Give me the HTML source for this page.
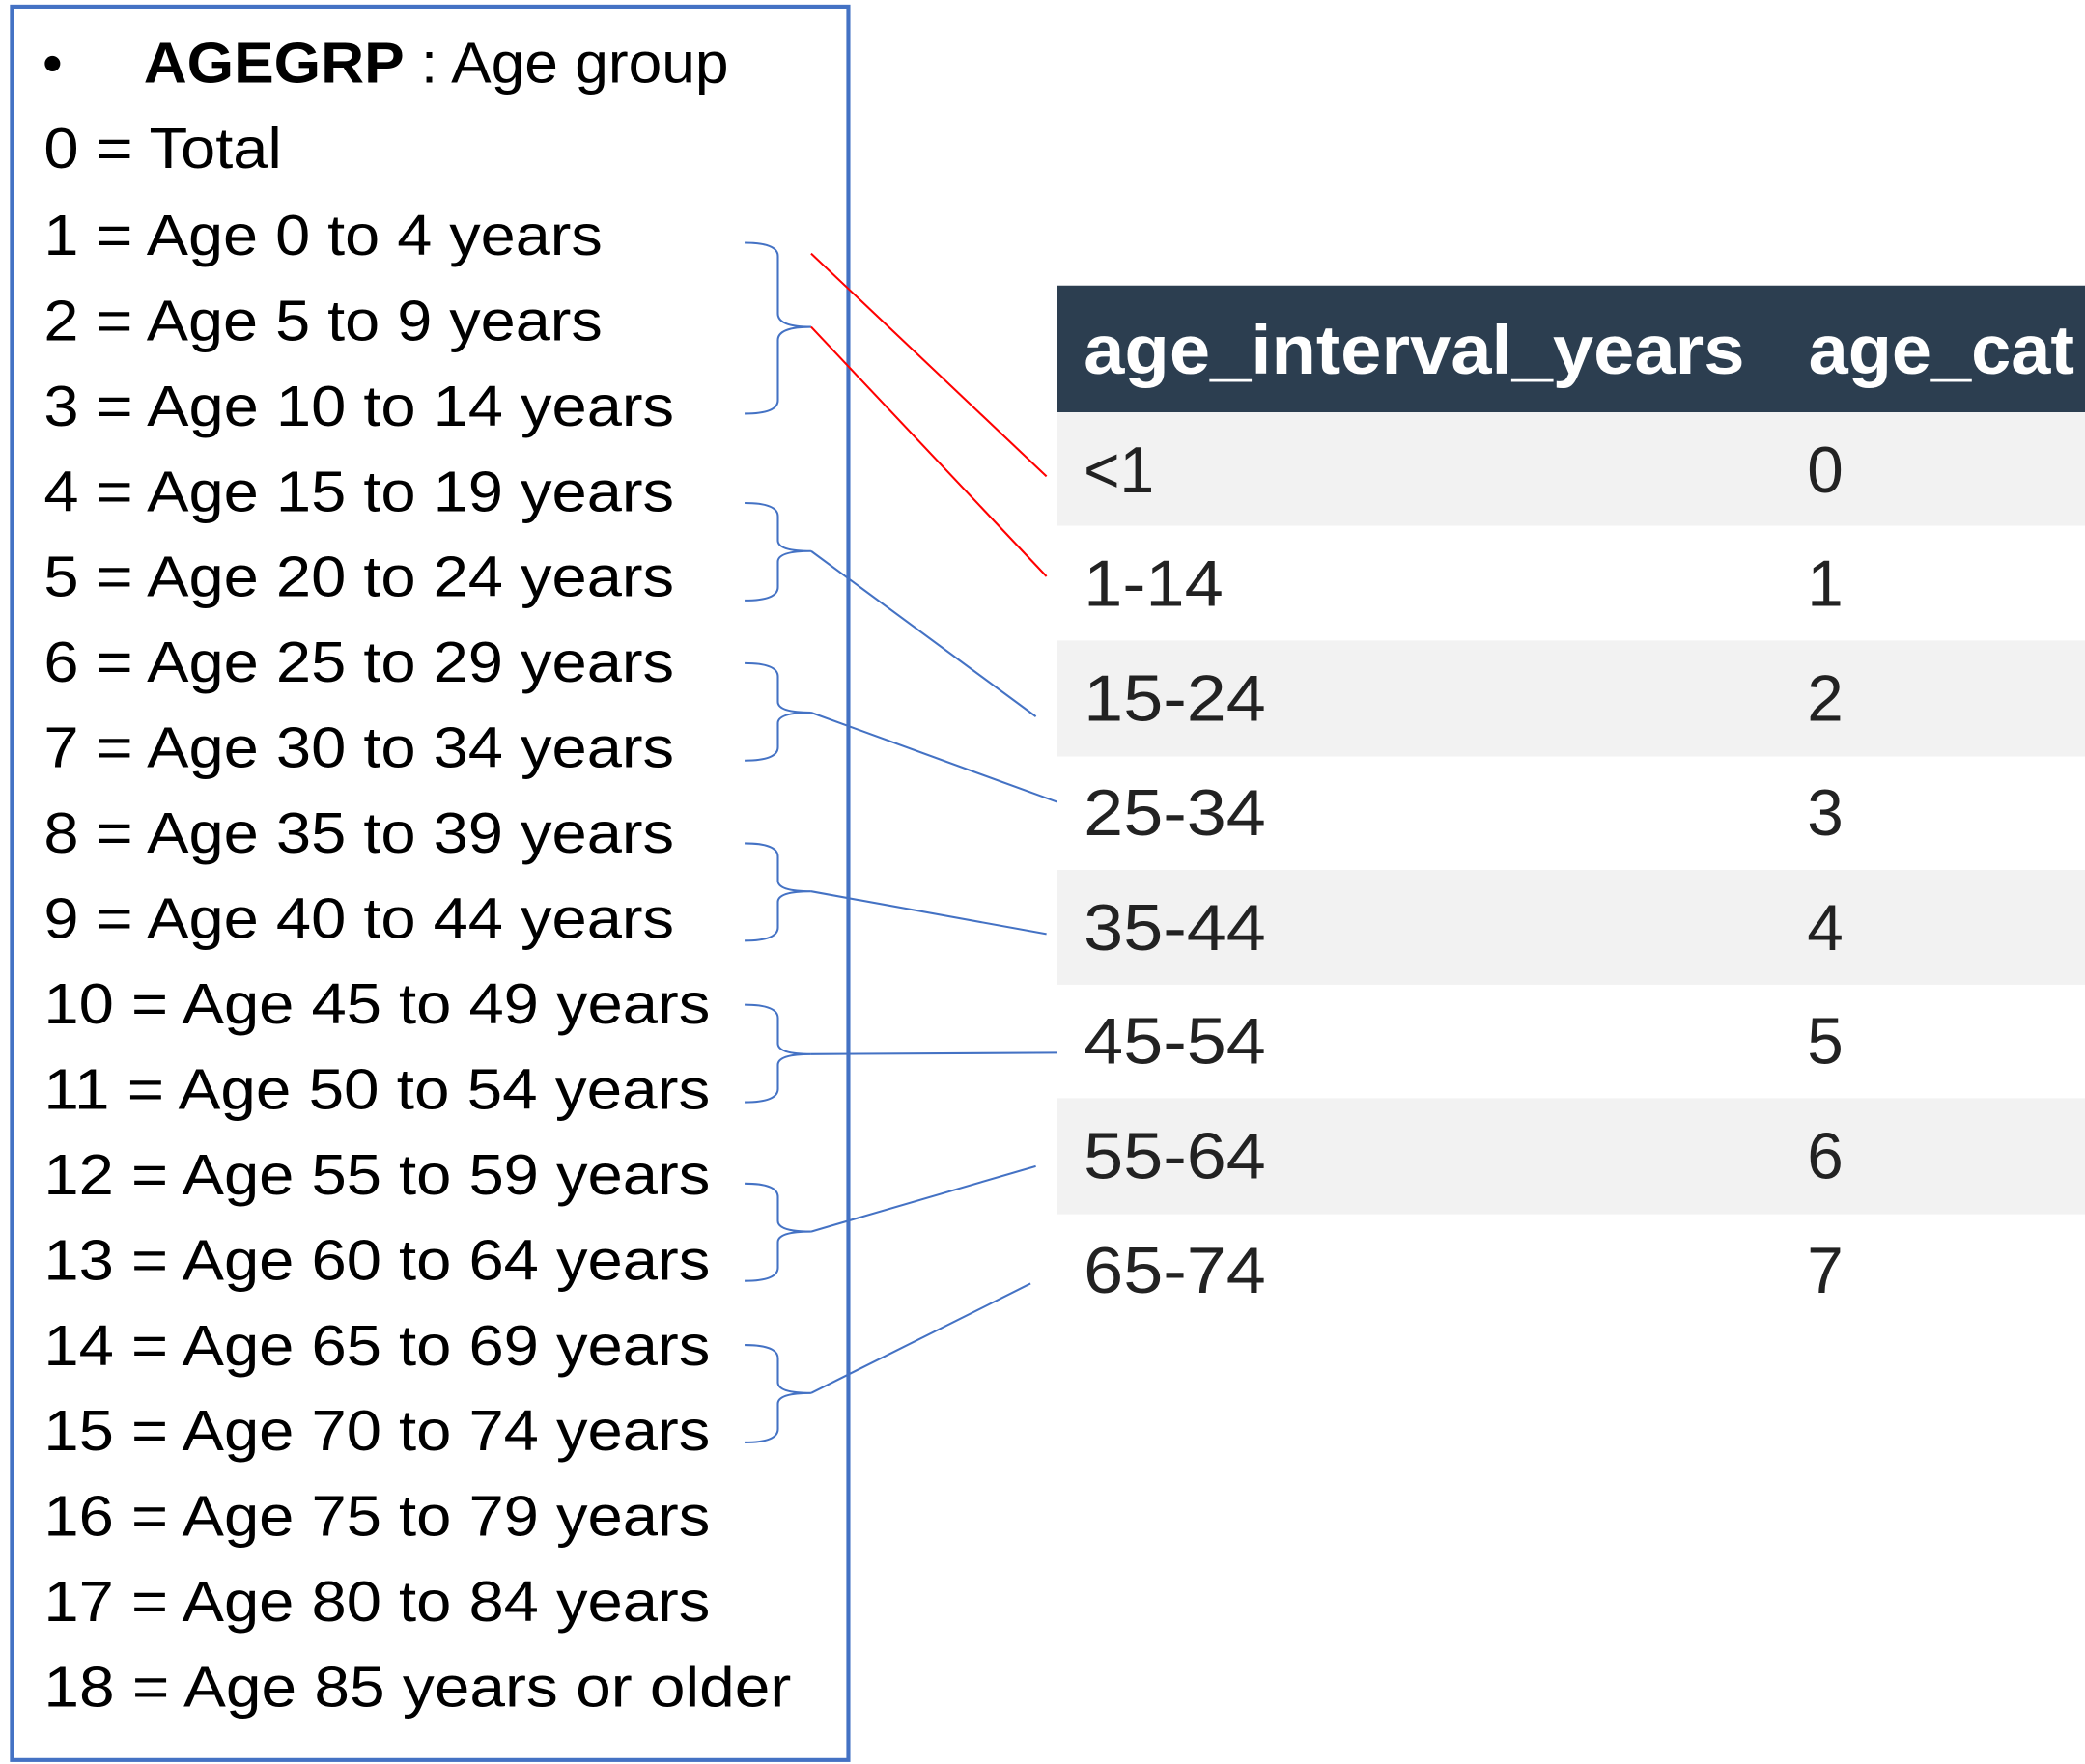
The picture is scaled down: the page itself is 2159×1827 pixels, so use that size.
<!DOCTYPE html>
<html><head><meta charset="utf-8"><style>html,body{margin:0;padding:0;background:#fff}svg{display:block}</style></head>
<body>
<svg width="2159" height="1827" viewBox="0 0 1568 1322" preserveAspectRatio="none" xmlns="http://www.w3.org/2000/svg">
<rect x="9" y="5" width="629" height="1314" fill="#fff" stroke="#4472c4" stroke-width="3"/>
<g font-family="Liberation Sans, sans-serif" font-size="43" fill="#000">
<text x="32" y="62">•</text>
<text x="108" y="62" textLength="440" lengthAdjust="spacingAndGlyphs"><tspan font-weight="bold">AGEGRP</tspan> : Age group</text>
<text x="33" y="126" textLength="179" lengthAdjust="spacingAndGlyphs">0 = Total</text>
<text x="33" y="191" textLength="420" lengthAdjust="spacingAndGlyphs">1 = Age 0 to 4 years</text>
<text x="33" y="255" textLength="420" lengthAdjust="spacingAndGlyphs">2 = Age 5 to 9 years</text>
<text x="33" y="319" textLength="474" lengthAdjust="spacingAndGlyphs">3 = Age 10 to 14 years</text>
<text x="33" y="383" textLength="474" lengthAdjust="spacingAndGlyphs">4 = Age 15 to 19 years</text>
<text x="33" y="447" textLength="474" lengthAdjust="spacingAndGlyphs">5 = Age 20 to 24 years</text>
<text x="33" y="511" textLength="474" lengthAdjust="spacingAndGlyphs">6 = Age 25 to 29 years</text>
<text x="33" y="575" textLength="474" lengthAdjust="spacingAndGlyphs">7 = Age 30 to 34 years</text>
<text x="33" y="639" textLength="474" lengthAdjust="spacingAndGlyphs">8 = Age 35 to 39 years</text>
<text x="33" y="703" textLength="474" lengthAdjust="spacingAndGlyphs">9 = Age 40 to 44 years</text>
<text x="33" y="767" textLength="501" lengthAdjust="spacingAndGlyphs">10 = Age 45 to 49 years</text>
<text x="33" y="831" textLength="501" lengthAdjust="spacingAndGlyphs">11 = Age 50 to 54 years</text>
<text x="33" y="895" textLength="501" lengthAdjust="spacingAndGlyphs">12 = Age 55 to 59 years</text>
<text x="33" y="959" textLength="501" lengthAdjust="spacingAndGlyphs">13 = Age 60 to 64 years</text>
<text x="33" y="1023" textLength="501" lengthAdjust="spacingAndGlyphs">14 = Age 65 to 69 years</text>
<text x="33" y="1087" textLength="501" lengthAdjust="spacingAndGlyphs">15 = Age 70 to 74 years</text>
<text x="33" y="1151" textLength="501" lengthAdjust="spacingAndGlyphs">16 = Age 75 to 79 years</text>
<text x="33" y="1215" textLength="501" lengthAdjust="spacingAndGlyphs">17 = Age 80 to 84 years</text>
<text x="33" y="1279" textLength="562" lengthAdjust="spacingAndGlyphs">18 = Age 85 years or older</text>
</g>
<g fill="none" stroke="#4472c4" stroke-width="1.5">
<path d="M560 182 Q585 182 585 192 L585 235 Q585 245 610 245 Q585 245 585 255 L585 300 Q585 310 560 310"/>
<path d="M560 377 Q585 377 585 387 L585 405 Q585 413 610 413 Q585 413 585 421 L585 440 Q585 450 560 450"/>
<path d="M560 497 Q585 497 585 507 L585 526 Q585 534 610 534 Q585 534 585 542 L585 560 Q585 570 560 570"/>
<path d="M560 632 Q585 632 585 642 L585 660 Q585 668 610 668 Q585 668 585 676 L585 695 Q585 705 560 705"/>
<path d="M560 753 Q585 753 585 763 L585 782 Q585 790 610 790 Q585 790 585 798 L585 816 Q585 826 560 826"/>
<path d="M560 887 Q585 887 585 897 L585 915 Q585 923 610 923 Q585 923 585 931 L585 950 Q585 960 560 960"/>
<path d="M560 1008 Q585 1008 585 1018 L585 1036 Q585 1044 610 1044 Q585 1044 585 1052 L585 1071 Q585 1081 560 1081"/>
</g>
<g stroke-width="1.5">
<line x1="610" y1="190" x2="787" y2="357" stroke="#ff0000"/>
<line x1="610" y1="245" x2="787" y2="432" stroke="#ff0000"/>
<line x1="610" y1="413" x2="779" y2="537" stroke="#4472c4"/>
<line x1="610" y1="534" x2="795" y2="601" stroke="#4472c4"/>
<line x1="610" y1="668" x2="787" y2="700" stroke="#4472c4"/>
<line x1="610" y1="790" x2="795" y2="789" stroke="#4472c4"/>
<line x1="610" y1="923" x2="779" y2="874" stroke="#4472c4"/>
<line x1="610" y1="1044" x2="775" y2="962" stroke="#4472c4"/>
</g>
<g font-family="Liberation Sans, sans-serif" font-size="49">
<rect x="795" y="214" width="773" height="95" fill="#2c3e50"/>
<text x="815" y="280" fill="#fff" font-size="52" font-weight="bold" textLength="497" lengthAdjust="spacingAndGlyphs">age_interval_years</text>
<text x="1360" y="280" fill="#fff" font-size="52" font-weight="bold" textLength="200" lengthAdjust="spacingAndGlyphs">age_cat</text>
<rect x="795" y="309" width="773" height="85" fill="#f2f2f2"/>
<rect x="795" y="480" width="773" height="87" fill="#f2f2f2"/>
<rect x="795" y="652" width="773" height="86" fill="#f2f2f2"/>
<rect x="795" y="823" width="773" height="87" fill="#f2f2f2"/>
<g fill="#222">
<text x="815" y="369" textLength="53" lengthAdjust="spacingAndGlyphs">&lt;1</text>
<text x="1359" y="369">0</text>
<text x="815" y="454" textLength="105" lengthAdjust="spacingAndGlyphs">1-14</text>
<text x="1359" y="454">1</text>
<text x="815" y="540" textLength="137" lengthAdjust="spacingAndGlyphs">15-24</text>
<text x="1359" y="540">2</text>
<text x="815" y="626" textLength="137" lengthAdjust="spacingAndGlyphs">25-34</text>
<text x="1359" y="626">3</text>
<text x="815" y="712" textLength="137" lengthAdjust="spacingAndGlyphs">35-44</text>
<text x="1359" y="712">4</text>
<text x="815" y="797" textLength="137" lengthAdjust="spacingAndGlyphs">45-54</text>
<text x="1359" y="797">5</text>
<text x="815" y="883" textLength="137" lengthAdjust="spacingAndGlyphs">55-64</text>
<text x="1359" y="883">6</text>
<text x="815" y="969" textLength="137" lengthAdjust="spacingAndGlyphs">65-74</text>
<text x="1359" y="969">7</text>
</g>
</g>
</svg>
</body></html>
